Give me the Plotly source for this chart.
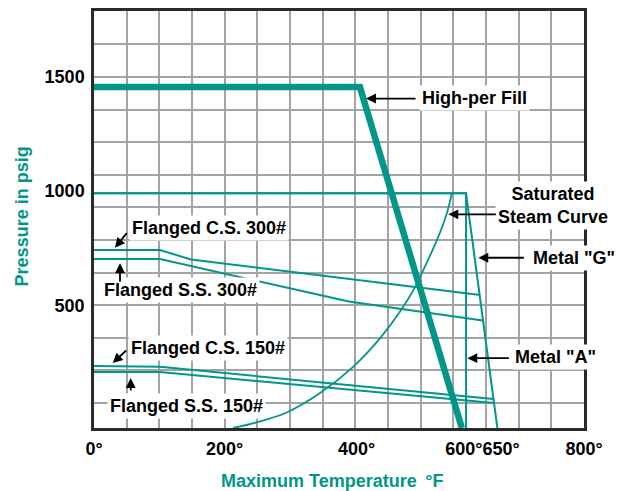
import plotly.graph_objects as go

TEAL = "#009688"
FONT = "Liberation Sans, Arial, Helvetica, sans-serif"

# ---------------- data ----------------
high_per_x = [0, 407, 563]
high_per_y = [1456, 1456, -38]

metal_a_x = [0, 569.5, 569.5]
metal_a_y = [990, 990, -38]

metal_g_x = [0, 569.5, 617.4]
metal_g_y = [990, 990, -38]

steam_x = [213, 250, 295, 346, 397, 438, 468.5, 489, 504, 525, 540, 547.6]
steam_y = [-38, -12, 30, 115, 231, 356, 472, 567, 654, 786, 902, 990]

cs300_x = [0, 101, 148.5, 591]
cs300_y = [742, 742, 700, 545]

ss300_x = [0, 101, 390, 595]
ss300_y = [702, 702, 516, 433]

cs150_x = [0, 75, 101, 611.5]
cs150_y = [234, 233, 230, 89]

ss150_x = [0, 101, 612]
ss150_y = [207, 207, 71]

x_tick_vals = [0, 200, 402, 566, 623, 750]
x_tick_text = ["0°", "200°", "400°", "600°", "650°", "800°"]
y_tick_vals = [500, 1000, 1500]
y_tick_text = ["500", "1000", "1500"]

# ---------------- figure ----------------
fig = go.Figure()

def add_line(x, y, width, shape="linear"):
    fig.add_trace(go.Scatter(x=x, y=y, mode="lines",
                             line=dict(color=TEAL, width=width, shape=shape),
                             hoverinfo="skip", showlegend=False))

add_line(cs300_x, cs300_y, 2)
add_line(ss300_x, ss300_y, 2)
add_line(cs150_x, cs150_y, 2)
add_line(ss150_x, ss150_y, 2)
add_line(metal_a_x, metal_a_y, 2)
add_line(metal_g_x, metal_g_y, 2)
add_line(steam_x, steam_y, 1.8, "spline")
add_line(high_per_x, high_per_y, 6.5)

# layout geometry (pixels)
L, R, T, B = 94, 35, 11, 63
W, H = 619, 491
PW, PH = W - L - R, H - T - B

def px_x(px):
    return (px - L) / PW

def px_y(py):
    return (H - B - py) / PH

grid_x = [50 * i for i in range(1, 15)]
grid_y = [500 + k * 1000 / 7 for k in range(-3, 9)]

tick_font = dict(size=18, family=FONT, color="black", weight="bold")

fig.update_layout(
    width=W, height=H,
    margin=dict(l=L, r=R, t=T, b=B, pad=0, autoexpand=False),
    plot_bgcolor="white", paper_bgcolor="white",
    showlegend=False,
    font=dict(family=FONT, color="black"),
    xaxis=dict(range=[0, 750], tickmode="array", tickvals=x_tick_vals, ticktext=x_tick_text,
               tickangle=0, automargin=False,
               showgrid=False, zeroline=False, showline=True, mirror=True,
               linecolor="#2a2a2a", linewidth=2.5,
               ticks="outside", ticklen=3, tickcolor="rgba(0,0,0,0)",
               tickfont=tick_font,
               minor=dict(tickmode="array", tickvals=grid_x, showgrid=True,
                          gridcolor="#a3a3a3", gridwidth=1.5, ticks="")),
    yaxis=dict(range=[-38, 1789], tickmode="array", tickvals=y_tick_vals, ticktext=y_tick_text,
               automargin=False,
               showgrid=False, zeroline=False, showline=True, mirror=True,
               linecolor="#2a2a2a", linewidth=2.5,
               ticks="outside", ticklen=3, tickcolor="rgba(0,0,0,0)",
               tickfont=tick_font,
               minor=dict(tickmode="array", tickvals=grid_y, showgrid=True,
                          gridcolor="#a3a3a3", gridwidth=1.5, ticks="")),
)

lab_font = dict(size=18, family=FONT, color="black", weight="bold")
PAD = 2

def text_ann(text, left_px, cy_px, anchor="left"):
    fig.add_annotation(text=text, xref="paper", yref="paper",
                       x=px_x(left_px - PAD if anchor == "left" else left_px), y=px_y(cy_px),
                       xanchor=anchor, yanchor="middle", showarrow=False,
                       bgcolor="white", borderpad=PAD, font=lab_font, align="center")

text_ann("High-per Fill", 421, 97.5)
text_ann("Saturated<br>Steam Curve", 553, 205, anchor="center")
text_ann('Metal "G"', 531.7, 257.5)
text_ann('Metal "A"', 513.5, 356.7)
text_ann("Flanged C.S. 300#", 131.4, 228.3)
text_ann("Flanged S.S. 300#", 103.3, 290)
text_ann("Flanged C.S. 150#", 129.7, 348.3)
text_ann("Flanged S.S. 150#", 109, 406)

def arrow(tx, ty, ax, ay):
    fig.add_annotation(x=tx, y=ty, xref="x", yref="y", ax=ax, ay=ay, text="",
                       showarrow=True, arrowhead=2, arrowsize=1.1, arrowwidth=1.8,
                       arrowcolor="black", standoff=0)

arrow(416.4, 1405.5, 51, 0)
arrow(542.4, 898, 49, 0)
arrow(588.3, 708, 47, 0)
arrow(571.5, 268, 43, 0)
arrow(32.1, 752, 13, -16)
arrow(39.8, 683.7, 0, 20)
arrow(28.6, 246.3, 15, -14)
arrow(56.2, 180.7, 0, 14)

title_font = dict(size=18, family=FONT, color=TEAL, weight="bold")
fig.add_annotation(text="Pressure in psig", xref="paper", yref="paper",
                   x=px_x(21.7), y=px_y(216.7), xanchor="center", yanchor="middle",
                   textangle=-90, showarrow=False, font=title_font)
fig.add_annotation(text="Maximum Temperature\u2009 °F", xref="paper", yref="paper",
                   x=px_x(332), y=px_y(481), xanchor="center", yanchor="middle",
                   showarrow=False, font=title_font)

fig.write_html("out.html", config={"displayModeBar": False},
               post_script="document.body.style.margin='0';document.body.style.overflow='hidden';")
